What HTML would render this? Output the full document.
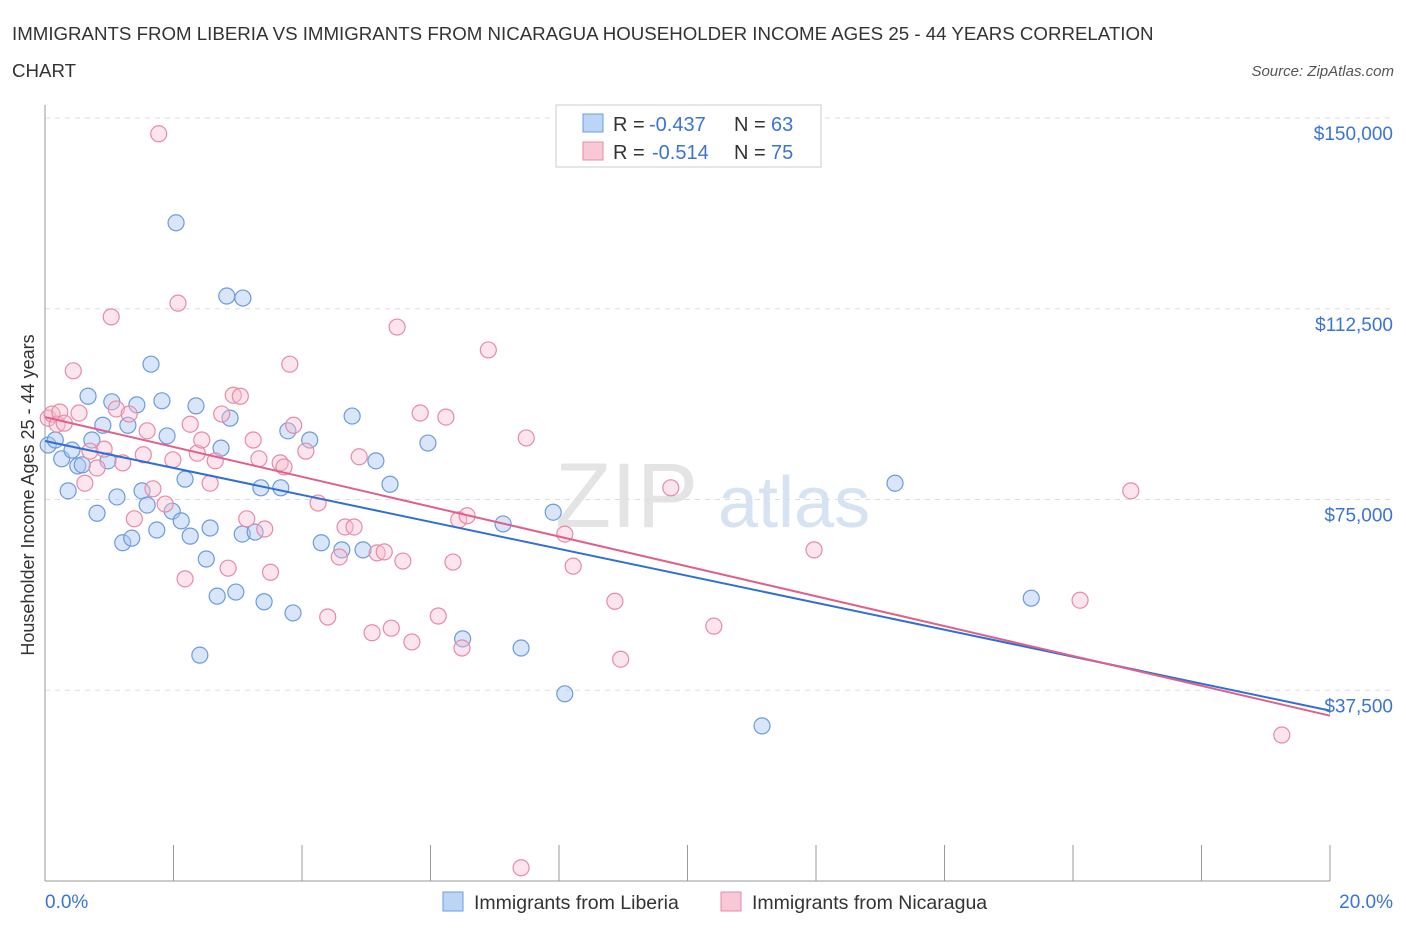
<!DOCTYPE html>
<html><head><meta charset="utf-8">
<style>
body{margin:0;background:#fff;font-family:"Liberation Sans",sans-serif;}
#wrap{position:relative;width:1406px;height:930px;overflow:hidden;}
svg text{font-family:"Liberation Sans",sans-serif;}
</style></head>
<body>
<div id="wrap">
<svg id="chart" width="1406" height="930">
<text x="12" y="40" font-size="18.7" fill="#333">IMMIGRANTS FROM LIBERIA VS IMMIGRANTS FROM NICARAGUA HOUSEHOLDER INCOME AGES 25 - 44 YEARS CORRELATION</text>
<text x="12" y="77" font-size="18.7" fill="#333">CHART</text>
<text x="1394" y="76" font-size="15" fill="#555" font-style="italic" text-anchor="end">Source: ZipAtlas.com</text>
<text x="34" y="495" font-size="18" fill="#333" text-anchor="middle" transform="rotate(-90 34 495)">Householder Income Ages 25 - 44 years</text>
<text x="555" y="527" font-size="92" fill="#e4e4e4" font-family="Liberation Serif">ZIP</text>
<text x="718" y="527" font-size="72" fill="#d6e3f3">atlas</text>
<g id="grid"></g><g id="axes"></g><g id="pts"></g><g id="trend"></g>
<g>
<rect x="556" y="105" width="265" height="62" fill="#fff" stroke="#ccc"/>
<rect x="583" y="114" width="20" height="18" fill="#bcd4f5" stroke="#6b9be0"/>
<rect x="583" y="142" width="20" height="18" fill="#f9c8d6" stroke="#e88aa8"/>
<g font-size="20" fill="#333">
<text x="613" y="131">R =</text><text x="649" y="131" fill="#3a74d6">-0.437</text>
<text x="734" y="131">N =</text><text x="771" y="131" fill="#3a74d6">63</text></g>
<g font-size="20" fill="#333">
<text x="613" y="159">R =</text><text x="652" y="159" fill="#3a74d6">-0.514</text>
<text x="734" y="159">N =</text><text x="771" y="159" fill="#3a74d6">75</text></g>
</g>
<g>
<rect x="443" y="892" width="20" height="19" fill="#bcd4f5" stroke="#6b9be0"/>
<text x="474" y="909" font-size="19.5" fill="#333">Immigrants from Liberia</text>
<rect x="721" y="892" width="20" height="19" fill="#f9c8d6" stroke="#e88aa8"/>
<text x="752" y="909" font-size="19.5" fill="#333">Immigrants from Nicaragua</text>
</g>
</svg>
</div>
<script>
const yTicks=[37500,75000,112500,150000];
const yTickLabels=["$37,500","$75,000","$112,500","$150,000"];
const xTickVals=[0,2,4,6,8,10,12,14,16,18,20];
const xEndLabels=["0.0%","20.0%"];
const liberiaX=[0.05,0.16,0.26,0.36,0.42,0.51,0.58,0.67,0.73,0.81,0.90,0.98,1.04,1.12,1.21,1.29,1.35,1.43,1.51,1.59,1.65,1.74,1.82,1.90,1.98,2.04,2.12,2.18,2.26,2.35,2.41,2.51,2.57,2.68,2.74,2.83,2.88,2.97,3.07,3.08,3.27,3.36,3.41,3.67,3.78,3.86,4.12,4.30,4.62,4.78,4.95,5.15,5.37,5.96,6.50,7.13,7.41,7.91,8.09,11.16,13.23,15.35];
const liberiaY=[85700,86700,83000,76700,84700,81600,81800,95300,86700,72300,89600,82600,94200,75500,66500,89600,67400,93600,76700,73900,101600,69000,94400,87500,72700,129400,70800,79000,67800,93400,44400,63300,69400,56000,85100,115000,91000,56800,68200,114600,68600,77300,54900,77300,88500,52700,86700,66500,65100,91400,65100,82600,78000,86100,47600,70200,45800,72500,36800,30500,78200,55600];
const nicaraguaX=[0.05,0.11,0.19,0.23,0.30,0.44,0.53,0.62,0.70,0.81,0.92,1.03,1.11,1.21,1.31,1.39,1.53,1.59,1.68,1.77,1.87,1.99,2.07,2.18,2.26,2.37,2.44,2.57,2.65,2.75,2.85,2.93,3.04,3.14,3.24,3.33,3.42,3.51,3.66,3.72,3.81,3.87,4.06,4.25,4.40,4.58,4.67,4.81,4.89,5.09,5.17,5.28,5.39,5.48,5.57,5.71,5.84,6.12,6.24,6.35,6.44,6.49,6.57,6.90,7.41,7.49,8.09,8.22,8.87,8.96,9.74,10.41,11.97,16.11,16.90,19.25];
const nicaraguaY=[91000,91800,89800,92200,90000,100300,92000,78200,84500,81200,84900,110900,92800,82200,91800,71200,83800,88500,77100,146900,74100,82800,113600,59400,89800,84100,86700,78200,82600,91800,61500,95500,95300,71200,86700,83000,69200,60700,82200,81400,101600,89600,84500,74300,51900,63700,69600,69600,83400,48800,64500,64700,49700,108900,62900,47000,92000,52100,91200,62700,71000,45800,71800,104400,2600,87100,68200,61900,55000,43600,77300,50100,65100,55200,76700,28700];
const trendLiberia=[86500,33500];
const trendNicaragua=[91200,32500];

const NS="http://www.w3.org/2000/svg";
const X0=45,X1=1330,Y0=881,Y150=118;
const xs=v=>X0+(v/20)*(X1-X0);
const ys=v=>Y0-(v/150000)*(Y0-Y150);
function mk(tag,attrs,parent){const e=document.createElementNS(NS,tag);for(const k in attrs)e.setAttribute(k,attrs[k]);parent.appendChild(e);return e;}
const grid=document.getElementById('grid'),axes=document.getElementById('axes'),pts=document.getElementById('pts'),tr=document.getElementById('trend');
yTicks.forEach((t,i)=>{
 const l=mk('line',{x1:X0,x2:1394,y1:ys(t),y2:ys(t),stroke:'#ddd','stroke-dasharray':'5,5'},grid);
 
 
 const tx=mk('text',{x:1393,y:ys(t)+22,'font-size':19,fill:'#3a74d6','text-anchor':'end'},axes);
 tx.textContent=yTickLabels[i];
 
 
});
const ya=mk('line',{x1:X0,x2:X0,y1:105,y2:Y0,stroke:'#999'},axes);


const xa=mk('line',{x1:X0,x2:X1,y1:Y0,y2:Y0,stroke:'#999'},axes);


xTickVals.forEach(v=>{
 const t=mk('line',{x1:xs(v),x2:xs(v),y1:Y0-36,y2:Y0,stroke:'#999'},axes);
 
 
});
const xl0=mk('text',{x:45,y:908,'font-size':19,fill:'#3a74d6'},axes);xl0.textContent=xEndLabels[0];


const xl1=mk('text',{x:1393,y:908,'font-size':19,fill:'#3a74d6','text-anchor':'end'},axes);xl1.textContent=xEndLabels[1];


liberiaX.forEach((v,i)=>{
 const c=mk('circle',{cx:xs(v),cy:ys(liberiaY[i]),r:8,fill:'rgba(170,198,240,0.45)',stroke:'#6b9be0','stroke-width':1.2},pts);
 
 
});
nicaraguaX.forEach((v,i)=>{
 const c=mk('circle',{cx:xs(v),cy:ys(nicaraguaY[i]),r:8,fill:'rgba(248,190,208,0.4)',stroke:'#e88aa8','stroke-width':1.2},pts);
 
 
});
const t1=mk('line',{x1:xs(0),x2:xs(20),y1:ys(trendLiberia[0]),y2:ys(trendLiberia[1]),stroke:'#2f6fd6','stroke-width':2},tr);


const t2=mk('line',{x1:xs(0),x2:xs(20),y1:ys(trendNicaragua[0]),y2:ys(trendNicaragua[1]),stroke:'#e0608c','stroke-width':2},tr);


</script>
</body></html>
